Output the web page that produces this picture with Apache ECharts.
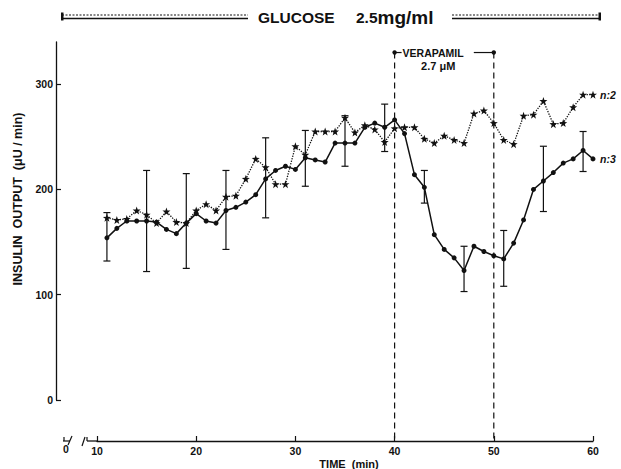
<!DOCTYPE html>
<html><head><meta charset="utf-8">
<script src="https://cdn.jsdelivr.net/npm/echarts@6/dist/echarts.min.js"></script>
<style>html,body{margin:0;padding:0;background:#fff}#c{width:621px;height:469px}</style>
</head><body><div id="c"></div>
<script>
// time (min)
const minutes = [11,12,13,14,15,16,17,18,19,20,21,22,23,24,25,26,27,28,29,30,31,32,33,34,35,36,37,38,39,40,41,42,43,44,45,46,47,48,49,50,51,52,53,54,55,56,57,58,59,60];
// insulin output, n:3 (solid, verapamil)
const insulinN3 = [154,163,170,170,170,169,162,158,168,177,170,168,180,183,188,195,210,218,222,219,230,228,226,244,244,244,259,263,259,266,253,214,202,157,143,135,123,146,141,137,134,149,171,200,208,216,225,229,237,229];
// insulin output, n:2 (dotted, control)
const insulinN2 = [173,171,172,180,176,168,179,169,168,180,186,180,193,194,210,229,221,205,205,241,233,255,255,255,268,254,261,257,245,258,259,259,248,244,251,247,244,272,275,263,247,243,270,271,284,262,263,278,290,290];
// error bars on n:3
const errMinutes = [11,15,19,23,27,31,35,39,43,47,51,55,59];
const errLow  = [132,122,125,143,173,203,222,236,187,103,108,179,217];
const errHigh = [178,218,215,218,249,256,270,281,218,146,161,241,255];
const xTicks = [10,20,30,40,50,60];
const yTicks = [0,100,200,300];
const verapamil = [40, 50];
const verapamilLevel = 330;

const FONT = 'Liberation Sans, Arial, sans-serif';
const BLACK = '#111';
const STAR = 'path://M0,-10 L2.35,-3.24 L9.51,-3.09 L3.8,1.24 L5.88,8.09 L0,4 L-5.88,8.09 L-3.8,1.24 L-9.51,-3.09 L-2.35,-3.24 Z';

const chart = echarts.init(document.getElementById('c'), null, {renderer: 'svg'});

const option = {
  animation: false,
  backgroundColor: '#fff',
  grid: {left: 97, right: 28, top: 42, bottom: 69, containLabel: false, outerBoundsMode: 'none'},
  xAxis: {
    type: 'value', min: 10, max: 60, interval: 10, offset: 41,
    axisLine: {show: true, onZero: false, lineStyle: {color: BLACK, width: 1.3}},
    axisTick: {show: true, inside: true, length: 5, lineStyle: {color: BLACK, width: 1.2}, customValues: xTicks},
    axisLabel: {color: BLACK, fontFamily: FONT, fontWeight: 'bold', fontSize: 10.5, margin: 4, customValues: xTicks},
    splitLine: {show: false}
  },
  yAxis: {
    type: 'value', min: 0, max: 340, interval: 100, offset: 41,
    axisLine: {show: true, onZero: false, lineStyle: {color: BLACK, width: 1.3}},
    axisTick: {show: true, inside: true, length: 5, lineStyle: {color: BLACK, width: 1.2}, customValues: yTicks},
    axisLabel: {color: BLACK, fontFamily: FONT, fontWeight: 'bold', fontSize: 10.5, margin: 3, customValues: yTicks},
    splitLine: {show: false}
  },
  graphic: [
    // header double lines
    {type: 'line', shape: {x1: 62, y1: 15, x2: 248, y2: 15}, style: {stroke: BLACK, lineWidth: 1, lineDash: [2, 1.5]}},
    {type: 'line', shape: {x1: 62, y1: 18.5, x2: 248, y2: 18.5}, style: {stroke: BLACK, lineWidth: 1.4}},
    {type: 'line', shape: {x1: 452, y1: 15, x2: 600, y2: 15}, style: {stroke: BLACK, lineWidth: 1, lineDash: [2, 1.5]}},
    {type: 'line', shape: {x1: 452, y1: 18.5, x2: 600, y2: 18.5}, style: {stroke: BLACK, lineWidth: 1.4}},
    {type: 'rect', shape: {x: 61, y: 12.5, width: 2.5, height: 8}, style: {fill: BLACK}},
    {type: 'rect', shape: {x: 598.5, y: 12.5, width: 2.5, height: 8}, style: {fill: BLACK}},
    {type: 'text', x: 258, y: 17, style: {text: 'GLUCOSE', fontFamily: FONT, fontWeight: 'bold', fontSize: 15.5, fill: BLACK, verticalAlign: 'middle', align: 'left'}},
    {type: 'text', x: 356, y: 17, style: {text: '{a|2.5}{b|mg/ml}', fontFamily: FONT, fill: BLACK, verticalAlign: 'middle', align: 'left',
      rich: {a: {fontFamily: FONT, fontWeight: 'bold', fontSize: 15.5, fill: BLACK}, b: {fontFamily: FONT, fontWeight: 'bold', fontSize: 19, fill: BLACK}}}},
    // y-axis title
    {type: 'text', x: 18, y: 199, rotation: Math.PI / 2, style: {text: 'INSULIN  OUTPUT  (μU / min)', fontFamily: FONT, fontWeight: 'bold', fontSize: 12.5, fill: BLACK, align: 'center', verticalAlign: 'middle'}},
    // x-axis title
    {type: 'text', x: 349, y: 464, style: {text: 'TIME  (min)', fontFamily: FONT, fontWeight: 'bold', fontSize: 11, fill: BLACK, align: 'center', verticalAlign: 'middle'}},
    // broken axis stub near 0
    {type: 'text', x: 66, y: 449, style: {text: '0', fontFamily: FONT, fontWeight: 'bold', fontSize: 10.5, fill: BLACK, align: 'center', verticalAlign: 'middle'}},
    {type: 'line', shape: {x1: 63, y1: 441, x2: 70, y2: 441}, style: {stroke: BLACK, lineWidth: 1.2}},
    {type: 'line', shape: {x1: 64, y1: 441, x2: 64, y2: 437}, style: {stroke: BLACK, lineWidth: 1.2}},
    {type: 'line', shape: {x1: 68, y1: 445, x2: 72, y2: 436}, style: {stroke: BLACK, lineWidth: 1.2}},
    {type: 'line', shape: {x1: 82, y1: 446, x2: 85, y2: 437}, style: {stroke: BLACK, lineWidth: 1.2}},
    {type: 'line', shape: {x1: 87, y1: 441, x2: 97, y2: 441}, style: {stroke: BLACK, lineWidth: 1.3}},
    {type: 'line', shape: {x1: 87, y1: 441, x2: 87, y2: 437}, style: {stroke: BLACK, lineWidth: 1.2}}
  ],
  series: [
    {
      name: 'n:2', type: 'line', data: minutes.map((t, i) => [t, insulinN2[i]]),
      lineStyle: {color: BLACK, width: 1.3, type: 'dotted'},
      itemStyle: {color: BLACK},
      symbol: STAR, symbolSize: 8, showSymbol: true,
      endLabel: {show: true, formatter: 'n:2', fontFamily: FONT, fontStyle: 'italic', fontWeight: 'bold', fontSize: 10.5, color: BLACK, distance: 7},
      z: 3
    },
    {
      name: 'n:3', type: 'line', data: minutes.map((t, i) => [t, insulinN3[i]]),
      lineStyle: {color: BLACK, width: 1.5, type: 'solid'},
      itemStyle: {color: BLACK},
      symbol: 'circle', symbolSize: 5, showSymbol: true,
      endLabel: {show: true, formatter: 'n:3', fontFamily: FONT, fontStyle: 'italic', fontWeight: 'bold', fontSize: 10.5, color: BLACK, distance: 7},
      z: 4
    },
    {
      name: 'SEM', type: 'custom', clip: false, z: 2,
      data: errMinutes.map((t, i) => [t, errLow[i], errHigh[i]]),
      encode: {x: 0, y: [1, 2]},
      renderItem: function (params, api) {
        const lo = api.coord([api.value(0), api.value(1)]);
        const hi = api.coord([api.value(0), api.value(2)]);
        const st = {stroke: BLACK, lineWidth: 1.2};
        return {type: 'group', children: [
          {type: 'line', shape: {x1: lo[0], y1: lo[1], x2: hi[0], y2: hi[1]}, style: st},
          {type: 'line', shape: {x1: lo[0] - 3.5, y1: lo[1], x2: lo[0] + 3.5, y2: lo[1]}, style: st},
          {type: 'line', shape: {x1: hi[0] - 3.5, y1: hi[1], x2: hi[0] + 3.5, y2: hi[1]}, style: st}
        ]};
      }
    },
    {
      name: 'Verapamil', type: 'custom', clip: false, z: 1,
      data: [[verapamil[0], verapamil[1], verapamilLevel]],
      encode: {x: [0, 1], y: 2},
      renderItem: function (params, api) {
        const a = api.coord([api.value(0), api.value(2)]);
        const b = api.coord([api.value(1), api.value(2)]);
        const base = api.coord([api.value(0), 0])[1] + 41;
        const dash = {stroke: BLACK, lineWidth: 1.2, lineDash: [6, 4]};
        const st = {stroke: BLACK, lineWidth: 1.2};
        return {type: 'group', children: [
          {type: 'line', shape: {x1: a[0], y1: a[1], x2: a[0], y2: base}, style: dash},
          {type: 'line', shape: {x1: b[0], y1: b[1], x2: b[0], y2: base}, style: dash},
          {type: 'line', shape: {x1: a[0], y1: a[1], x2: a[0] + 7, y2: a[1]}, style: st},
          {type: 'line', shape: {x1: b[0] - 20, y1: b[1], x2: b[0], y2: b[1]}, style: st},
          {type: 'circle', shape: {cx: a[0], cy: a[1], r: 2.2}, style: {fill: BLACK}},
          {type: 'circle', shape: {cx: b[0], cy: b[1], r: 2.2}, style: {fill: BLACK}},
          {type: 'text', x: a[0] + 8, y: a[1], style: {text: 'VERAPAMIL', fontFamily: FONT, fontWeight: 'bold', fontSize: 10.5, fill: BLACK, align: 'left', verticalAlign: 'middle'}},
          {type: 'text', x: (a[0] + b[0]) / 2 - 6, y: a[1] + 13, style: {text: '2.7 μM', fontFamily: FONT, fontWeight: 'bold', fontSize: 11, fill: BLACK, align: 'center', verticalAlign: 'middle'}}
        ]};
      }
    }
  ]
};
chart.setOption(option);
</script>
</body></html>
